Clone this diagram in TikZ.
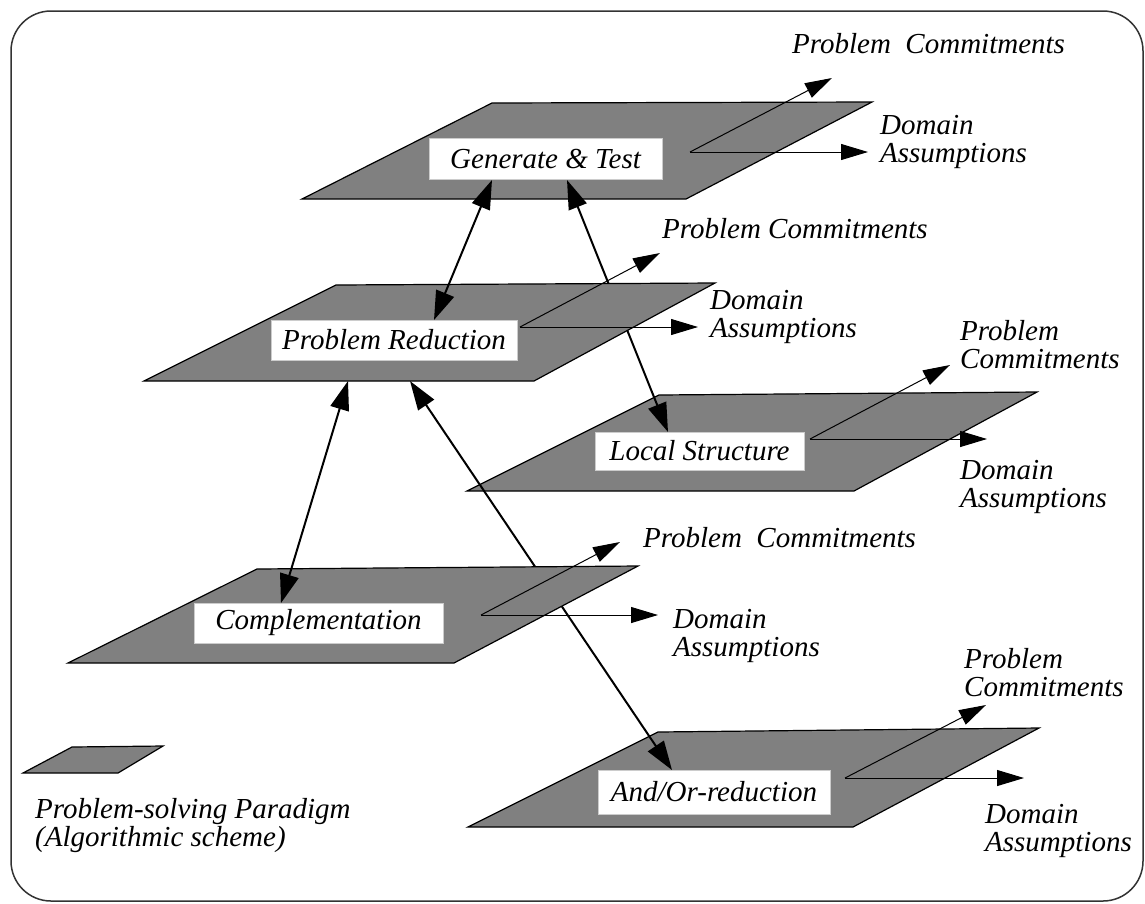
\documentclass[tikz,border=0pt]{standalone}
\usepackage{fontspec}
\setmainfont{Liberation Serif}
\usetikzlibrary{arrows.meta}
\newcommand\plfont{\fontsize{29}{28}\selectfont\itshape}
\begin{document}
\begin{tikzpicture}[x=1pt,y=-1pt,
  plane/.style={draw,fill=black!50,line width=1.2pt},
  lbl/.style={fill=white,draw=black!20,line width=0.4pt,inner sep=0pt,font=\plfont},
  txt/.style={inner sep=0pt,font=\plfont,align=left},
  conn/.style={line width=2pt,{Triangle[length=29pt,width=19pt]}-{Triangle[length=29pt,width=19pt]}},
  outarr/.style={line width=1pt,-{Triangle[length=27pt,width=16pt]}}]
\useasboundingbox (0,0) rectangle (1145,903);
\draw[black!80,line width=1.5pt,rounded corners=40pt] (11,11) rectangle (1143,901);
% back planes
\path[plane] (492,103) -- (872,102) -- (686,199) -- (302,199) -- cycle;
\node[lbl,minimum width=233pt,minimum height=41pt] (gt) at (545.5,158.5) {Generate \& Test};
\path[plane] (659,395) -- (1037,392) -- (854,491) -- (467,491) -- cycle;
\node[lbl,minimum width=209pt,minimum height=38pt] (ls) at (699.5,451) {Local Structure};
\path[plane] (658,732) -- (1039,728) -- (853,827) -- (468,827) -- cycle;
\node[lbl,minimum width=232pt,minimum height=44pt] (ao) at (714,792) {And/Or-reduction};
\coordinate (gt-l) at (492,180);
\coordinate (gt-r) at (567,180);
\coordinate (ls-t) at (668,432);
\coordinate (pr-r) at (410,381);
\coordinate (ao-t) at (672,770);
\draw[conn] (gt-r) -- (ls-t);
\draw[conn] (pr-r) -- (ao-t);
% front planes
\path[plane] (336,285) -- (715,283) -- (534,381) -- (144,381) -- cycle;
\node[lbl,minimum width=246pt,minimum height=40pt] (pr) at (394,340) {Problem Reduction};
\path[plane] (257,569) -- (638,566) -- (454,663) -- (68,663) -- cycle;
\node[lbl,minimum width=249pt,minimum height=40pt] (comp) at (318.5,623) {Complementation};
\coordinate (pr-t) at (434,320);
\coordinate (pr-l) at (348,381);
\coordinate (comp-t) at (281,603);
\draw[conn] (gt-l) -- (pr-t);
\draw[conn] (pr-l) -- (comp-t);
% commitments and assumptions
\coordinate (gt-o) at (690,152);
\coordinate (gt-pc) at (832,78);
\coordinate (gt-da) at (868,152);
\coordinate (pr-o) at (520,327);
\coordinate (pr-pc) at (660,253);
\coordinate (pr-da) at (698,327);
\coordinate (ls-o) at (810,439);
\coordinate (ls-pc) at (950,365);
\coordinate (ls-da) at (987,439);
\coordinate (comp-o) at (481,615);
\coordinate (comp-pc) at (620,542);
\coordinate (comp-da) at (658,615);
\coordinate (ao-o) at (845,778);
\coordinate (ao-pc) at (986,705);
\coordinate (ao-da) at (1024,778);
\draw[outarr] (gt-o) -- (gt-pc);
\draw[outarr] (gt-o) -- (gt-da);
\draw[outarr] (pr-o) -- (pr-pc);
\draw[outarr] (pr-o) -- (pr-da);
\draw[outarr] (ls-o) -- (ls-pc);
\draw[outarr] (ls-o) -- (ls-da);
\draw[outarr] (comp-o) -- (comp-pc);
\draw[outarr] (comp-o) -- (comp-da);
\draw[outarr] (ao-o) -- (ao-pc);
\draw[outarr] (ao-o) -- (ao-da);
\node[txt,anchor=base west] (gt-pct) at (792,53) {Problem~~Commitments};
\node[txt,anchor=north west] (gt-dat) at (880,115) {Domain\\Assumptions};
\node[txt,anchor=base west] (pr-pct) at (662,238) {Problem Commitments};
\node[txt,anchor=north west] (pr-dat) at (710,290) {Domain\\Assumptions};
\node[txt,anchor=north west] (ls-pct) at (960,320) {Problem\\Commitments};
\node[txt,anchor=north west] (ls-dat) at (960,460) {Domain\\Assumptions};
\node[txt,anchor=base west] (comp-pct) at (643,547) {Problem~~Commitments};
\node[txt,anchor=north west] (comp-dat) at (673,609) {Domain\\Assumptions};
\node[txt,anchor=north west] (ao-pct) at (964,648) {Problem\\Commitments};
\node[txt,anchor=north west] (ao-dat) at (985,804) {Domain\\Assumptions};
% legend
\path[plane] (72,747) -- (163,746) -- (118,773) -- (23,773) -- cycle;
\node[txt,anchor=north west] (key) at (35,798) {Problem-solving Paradigm\\(Algorithmic scheme)};
\end{tikzpicture}
\end{document}
